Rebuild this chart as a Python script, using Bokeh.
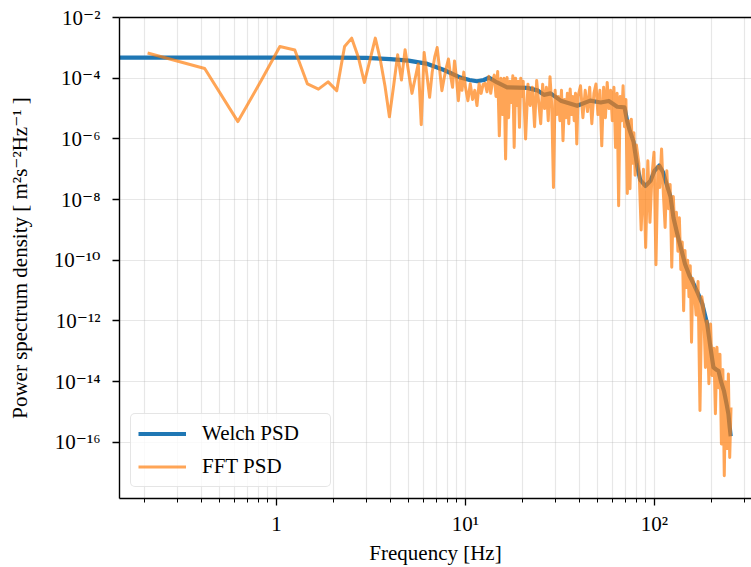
import numpy as np
from bokeh.plotting import figure
from bokeh.models import (FixedTicker, CustomJSTickFormatter, LogAxis, Legend,
                          LegendItem, Range1d)
from bokeh.embed import file_html
from bokeh.resources import INLINE

# ---------------- data ----------------
# Welch PSD: frequency [Hz] and log10 of PSD
welch_freq = [0.1, 1.0, 2.0, 3.0, 4.0, 5.0, 6.3, 7.7, 9.4, 10.5,
              11.5, 12.5, 13.3, 14.7, 16.6, 21.2, 24.0, 26.0, 28.2, 31.9,
              39.0, 45.7, 51.9, 57.3, 63.5, 69.4, 71.6, 74.0, 77.5, 81.0,
              84.0, 89.5, 95.3, 100.0, 106.0, 111.0, 116.0, 121.5, 126.0, 131.6,
              138.0, 145.0, 153.0, 161.0, 170.0, 179.0, 190.0, 198.0, 205.0, 212.0,
              218.0, 225.0, 233.0, 240.0, 246.0, 250.0, 253.0]
welch_log10 = [-3.32, -3.32, -3.32, -3.33, -3.37, -3.42, -3.53, -3.73, -3.98, -4.06,
               -4.10, -4.06, -3.98, -4.14, -4.30, -4.32, -4.40, -4.55, -4.50, -4.74,
               -4.91, -4.74, -4.80, -4.75, -4.94, -4.96, -5.40, -5.73, -6.10, -6.90,
               -7.35, -7.55, -7.38, -7.05, -6.88, -7.10, -7.50, -7.90, -8.60, -9.10,
               -9.60, -10.12, -10.50, -10.78, -11.10, -11.44, -12.10, -12.90, -13.53, -13.60,
               -13.64, -14.00, -14.30, -14.70, -15.06, -15.50, -15.80]

# FFT PSD: frequency [Hz] and log10 of PSD, by frequency band
fft_freq_low = [0.208, 0.417, 0.625, 0.833, 1.042, 1.25, 1.458, 1.667, 1.875, 2.083,
                2.292, 2.5, 2.708, 2.917, 3.125, 3.333, 3.542, 3.75, 3.958, 4.167,
                4.375, 4.583, 4.792, 5.0, 5.208, 5.417, 5.625, 5.833, 6.042, 6.25,
                6.458, 6.667, 6.875, 7.083, 7.292, 7.5, 7.708, 7.917, 8.125, 8.333,
                8.542, 8.75, 8.958, 9.167, 9.375, 9.583, 9.792]
fft_log_low = [-3.17, -3.68, -5.43, -4.06, -2.955, -3.07, -4.19, -4.36, -4.12, -4.41,
               -2.955, -2.68, -3.3, -4.14, -3.4, -2.68, -3.39, -4.26, -5.27, -4.25,
               -3.23, -4.06, -3.06, -3.8, -4.5, -4.0, -3.53, -5.53, -3.15, -3.9,
               -4.63, -3.8, -3.3, -2.99, -3.7, -4.41, -4.0, -3.65, -3.37, -3.9,
               -4.3, -3.43, -4.0, -4.74, -4.0, -4.4, -3.8]

fft_freq_10_20 = [10.0, 10.3, 10.6, 10.9, 11.2, 11.5, 11.8, 12.1, 12.4, 12.7,
                  13.0, 13.3, 13.6, 13.9, 14.2, 14.5, 14.8, 15.1, 15.4, 15.7,
                  16.0, 16.3, 16.6, 16.9, 17.2, 17.5, 17.8, 18.1, 18.4, 18.7,
                  19.0, 19.3, 19.6, 19.9]
fft_log_10_20 = [-4.3, -4.74, -4.18, -4.7, -4.4, -4.9, -4.18, -4.5, -4.2, -4.17,
                 -4.45, -3.94, -4.5, -4.1, -3.9, -4.6, -3.78, -5.9, -4.0, -5.2,
                 -4.0, -6.66, -3.98, -5.3, -4.1, -4.8, -3.92, -6.28, -4.0, -4.9,
                 -4.1, -5.62, -4.0, -4.6]

fft_freq_20_40 = [20.2, 20.8, 21.4, 22.0, 22.6, 23.2, 23.8, 24.4, 25.0, 25.6,
                  26.2, 26.8, 27.4, 28.0, 28.6, 29.2, 29.8, 30.4, 31.0, 31.6,
                  32.2, 32.8, 33.4, 34.0, 34.6, 35.2, 35.8, 36.4, 37.0, 37.6,
                  38.2, 38.8, 39.4]
fft_log_20_40 = [-4.1, -6.0, -4.2, -4.9, -4.3, -5.6, -4.08, -4.8, -5.5, -4.2,
                 -5.0, -4.3, -5.4, -3.95, -4.9, -7.6, -4.4, -5.2, -4.6, -5.4,
                 -4.4, -6.06, -4.7, -5.3, -4.5, -5.5, -4.36, -5.2, -4.6, -5.4,
                 -4.5, -6.17, -4.6]

fft_freq_40_80 = [40.6, 41.8, 43.0, 44.2, 45.4, 46.6, 47.8, 49.0, 50.2, 51.4,
                  52.6, 53.8, 55.0, 56.2, 57.4, 58.6, 59.8, 61.0, 62.2, 63.4,
                  64.6, 65.8, 67.0, 68.2, 69.4, 70.6, 71.8, 73.0, 74.2, 75.4,
                  76.6, 77.8, 79.0, 80.2]
fft_log_40_80 = [-4.25, -5.3, -4.4, -5.1, -4.3, -5.5, -4.5, -4.19, -5.2, -4.4,
                 -6.23, -4.3, -5.3, -4.14, -5.0, -4.4, -5.4, -4.3, -6.28, -4.5,
                 -8.2, -4.6, -5.4, -4.25, -5.6, -4.7, -7.8, -5.4, -7.64, -5.35,
                 -6.8, -5.8, -7.2, -6.2]

fft_freq_80_160 = [82.6, 85.0, 87.4, 89.8, 92.2, 94.6, 97.0, 99.4, 101.8, 104.2,
                   106.6, 109.0, 111.4, 113.8, 116.2, 118.6, 121.0, 123.4, 125.8, 128.2,
                   130.6, 133.0, 135.4, 137.8, 140.2, 142.6, 145.0, 147.4, 149.8, 152.2,
                   154.6, 157.0, 159.4]
fft_log_80_160 = [-6.8, -9.0, -7.0, -9.58, -6.72, -8.75, -7.2, -6.44, -10.15, -6.9,
                  -7.6, -6.33, -7.8, -8.92, -7.05, -8.3, -7.5, -10.23, -7.9, -9.2,
                  -8.42, -9.7, -8.6, -10.3, -9.4, -11.66, -9.68, -10.9, -10.0, -11.2,
                  -10.18, -12.7, -10.6]

fft_freq_160_256 = [162.0, 166.0, 170.0, 174.0, 178.0, 182.0, 186.0, 190.0, 194.0, 198.0,
                    202.0, 206.0, 210.0, 214.0, 218.0, 222.0, 226.0, 230.0, 234.0, 238.0,
                    242.0, 246.0, 250.0, 254.0]
fft_log_160_256 = [-10.9, -11.8, -10.7, -14.95, -11.2, -11.6, -13.53, -12.0, -14.07, -12.1,
                   -13.8, -12.9, -15.06, -12.87, -14.2, -13.1, -16.05, -13.6, -17.1, -14.0,
                   -16.2, -13.75, -16.5, -14.85]

y_tick_values = [1e-16, 1e-14, 1e-12, 1e-10, 1e-8, 1e-6, 1e-4, 1e-2]
x_tick_values = [1.0, 10.0, 100.0]
x_minor_values = [0.2, 0.3, 0.4, 0.5, 0.6, 0.7, 0.8, 0.9,
                  2, 3, 4, 5, 6, 7, 8, 9,
                  20, 30, 40, 50, 60, 70, 80, 90,
                  200, 300]

# ---------------- assemble ----------------
welch_psd = 10.0 ** np.array(welch_log10)
fft_freq = np.array(fft_freq_low + fft_freq_10_20 + fft_freq_20_40 + fft_freq_40_80
                    + fft_freq_80_160 + fft_freq_160_256)
fft_psd = 10.0 ** np.array(fft_log_low + fft_log_10_20 + fft_log_20_40 + fft_log_40_80
                           + fft_log_80_160 + fft_log_160_256)

FONT = "Liberation Serif, DejaVu Serif"

p = figure(width=751, height=567, x_axis_type="log", y_axis_type="log",
           x_range=Range1d(0.1477, 326.0), y_range=Range1d(10 ** -17.85, 1e-2),
           output_backend="svg", toolbar_location=None,
           min_border_left=119, min_border_right=0, min_border_top=17,
           min_border_bottom=69)
p.outline_line_color = None
p.background_fill_color = "white"
p.border_fill_color = "white"

welch_r = p.line(np.array(welch_freq), welch_psd, line_color="#1f77b4",
                 line_width=4.2, line_join="round")
fft_r = p.line(fft_freq, fft_psd, line_color="#ff7f0e", line_alpha=0.7,
               line_width=3, line_join="round")

sup_code = """
const e = Math.round(Math.log10(tick));
if (e === 0) { return "1"; }
const sup = {"-": "\u207b", "0": "\u2070", "1": "\u00b9", "2": "\u00b2", "3": "\u00b3",
             "4": "\u2074", "5": "\u2075", "6": "\u2076", "7": "\u2077", "8": "\u2078",
             "9": "\u2079"};
return "10" + String(e).split("").map(c => sup[c]).join("");
"""

p.xaxis.ticker = FixedTicker(ticks=x_tick_values, minor_ticks=x_minor_values)
p.yaxis.ticker = FixedTicker(ticks=y_tick_values, minor_ticks=[])
p.xaxis.formatter = CustomJSTickFormatter(code=sup_code)
p.yaxis.formatter = CustomJSTickFormatter(code=sup_code)

for ax in (p.xaxis[0], p.yaxis[0]):
    ax.axis_line_color = "black"
    ax.axis_line_width = 1.4
    ax.major_tick_line_color = "black"
    ax.major_tick_line_width = 1.3
    ax.major_tick_out = 7
    ax.major_tick_in = 0
    ax.minor_tick_line_color = "black"
    ax.minor_tick_line_width = 1.0
    ax.minor_tick_out = 4
    ax.minor_tick_in = 0
    ax.major_label_text_font = FONT
    ax.major_label_text_font_size = "21px"
    ax.major_label_text_color = "black"
    ax.axis_label_text_font = FONT
    ax.axis_label_text_font_size = "21px"
    ax.axis_label_text_font_style = "normal"
    ax.axis_label_text_color = "black"

p.xaxis.axis_label = "Frequency [Hz]"
p.yaxis.axis_label = "Power spectrum density [ m\u00b2s\u207b\u00b2Hz\u207b\u00b9 ]"
p.xaxis.major_label_standoff = 6
p.xaxis.axis_label_standoff = 2
p.yaxis.major_label_standoff = 12
p.yaxis.axis_label_standoff = 19

# top spine
top = LogAxis(ticker=FixedTicker(ticks=[], minor_ticks=[]),
              axis_line_color="black", axis_line_width=1.4,
              major_tick_out=0, major_tick_in=0, minor_tick_out=0, minor_tick_in=0,
              major_label_text_font_size="0px", major_label_standoff=0)
p.add_layout(top, "above")

for g in (p.xgrid[0], p.ygrid[0]):
    g.grid_line_color = "#b0b0b0"
    g.grid_line_alpha = 0.3
    g.grid_line_width = 1.2
p.xgrid.minor_grid_line_color = "#b0b0b0"
p.xgrid.minor_grid_line_alpha = 0.3
p.xgrid.minor_grid_line_width = 1.2

legend = Legend(items=[LegendItem(label="Welch PSD", renderers=[welch_r]),
                       LegendItem(label="FFT PSD", renderers=[fft_r])],
                location=(11, 11), orientation="vertical",
                background_fill_color="white", background_fill_alpha=0.8,
                border_line_color="#cccccc", border_line_width=1.5,
                label_text_font=FONT, label_text_font_size="21px",
                label_text_color="black",
                glyph_width=48, glyph_height=25, label_height=25,
                label_width=121, label_standoff=16, spacing=8, padding=7,
                margin=0)
if "border_radius" in Legend.properties():
    legend.border_radius = 5
p.add_layout(legend, "center")

open("out.html", "w").write(file_html(p, INLINE))
